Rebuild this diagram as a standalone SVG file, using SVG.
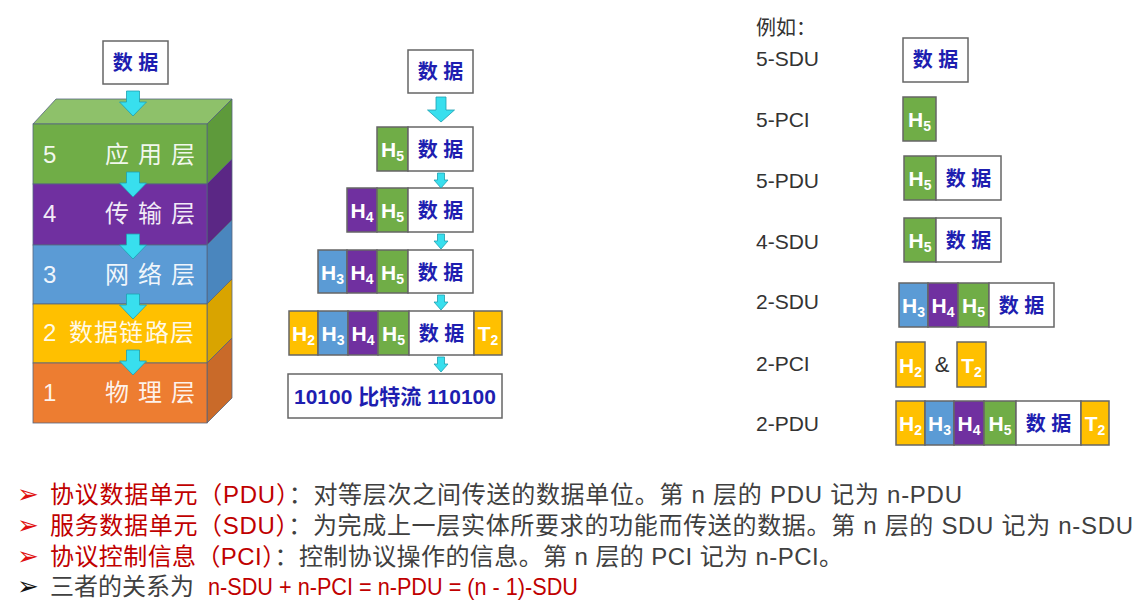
<svg xmlns="http://www.w3.org/2000/svg" xmlns:xlink="http://www.w3.org/1999/xlink" width="1138" height="608" viewBox="0 0 1138 608">
<style>
text{font-family:'Liberation Sans','Noto Sans CJK SC',sans-serif}
.box{fill:#fff;stroke:#666;stroke-width:1.5}
.g{fill:#70AD47;stroke:#666;stroke-width:1.5}
.p{fill:#7030A0;stroke:#666;stroke-width:1.5}
.b{fill:#5B9BD5;stroke:#666;stroke-width:1.5}
.y{fill:#FFC000;stroke:#666;stroke-width:1.5}
.d{font-size:20px;font-weight:bold;fill:#1E1EB0;text-anchor:middle}
.h{font-size:21px;font-weight:bold;fill:#fff;text-anchor:middle}
.s{font-size:14px}
.lay{font-size:24px;fill:#fff;fill-opacity:0.92}
.lbl{font-size:21px;fill:#333}
.t{font-size:24px;fill:#404040}
.r{fill:#C00000}
.bul{font-family:'DejaVu Sans',sans-serif;font-size:26px}
.arr{fill:#38DFEE;stroke:#1E9FB0;stroke-width:0.8}
.edge{stroke:#55657f;stroke-width:0.8}
</style>
<defs>
<path id="aL" d="M-6.5,0 H6.5 V11 H13.5 L0,25 L-13.5,11 H-6.5 Z"/>
<path id="aM" d="M-5,0 H5 V13 H13.5 L0,25 L-13.5,13 H-5 Z"/>
<path id="aS" d="M-3.5,0 H3.5 V7 H7 L0,15 L-7,7 H-3.5 Z"/>
</defs>
<rect width="1138" height="608" fill="#fff"/>

<!-- Left stack -->
<g id="stack-data">
<rect class="box" x="103" y="41" width="65" height="43"/>
<text class="d" x="135.5" y="70">数 据</text>
</g>
<g id="layer5">
<polygon class="edge" points="33,124 56,99 232,99 207,124" fill="#8EC16A"/>
<polygon class="edge" points="207,124 232,99 232,159 207,184" fill="#5E9A3B"/>
<rect class="edge" x="33" y="124" width="174" height="60" fill="#70AD47"/>
<text class="lay" x="43" y="163">5</text>
<text class="lay" x="105 138 171" y="163">应用层</text>
</g>
<g id="layer4">
<polygon class="edge" points="207,184 232,159 232,220 207,245" fill="#5B2785"/>
<rect class="edge" x="33" y="184" width="174" height="61" fill="#7030A0"/>
<text class="lay" x="43" y="222">4</text>
<text class="lay" x="105 138 171" y="222">传输层</text>
</g>
<g id="layer3">
<polygon class="edge" points="207,245 232,220 232,279 207,304" fill="#4A86BE"/>
<rect class="edge" x="33" y="245" width="174" height="59" fill="#5B9BD5"/>
<text class="lay" x="43" y="283">3</text>
<text class="lay" x="105 138 171" y="283">网络层</text>
</g>
<g id="layer2">
<polygon class="edge" points="207,304 232,279 232,338 207,363" fill="#D9A400"/>
<rect class="edge" x="33" y="304" width="174" height="59" fill="#FFC000"/>
<text class="lay" x="43" y="341">2</text>
<text class="lay" x="69 94 119 145 170" y="341">数据链路层</text>
</g>
<g id="layer1">
<polygon class="edge" points="207,363 232,338 232,398 207,423" fill="#C96A29"/>
<rect class="edge" x="33" y="363" width="174" height="60" fill="#ED7D31"/>
<text class="lay" x="43" y="401">1</text>
<text class="lay" x="105 138 171" y="401">物理层</text>
</g>

<!-- Middle column -->
<g id="m-data">
<rect class="box" x="408" y="50" width="65" height="43"/>
<text class="d" x="440.5" y="79">数 据</text>
</g>
<g id="m-row5">
<rect class="g" x="377" y="127" width="31" height="44"/>
<rect class="box" x="408" y="127" width="65" height="44"/>
<text class="h" x="392.5" y="157">H<tspan class="s" dy="4">5</tspan></text>
<text class="d" x="440.5" y="157">数 据</text>
</g>
<g id="m-row4">
<rect class="p" x="347" y="188" width="30" height="44"/>
<rect class="g" x="377" y="188" width="31" height="44"/>
<rect class="box" x="408" y="188" width="65" height="44"/>
<text class="h" x="362" y="218">H<tspan class="s" dy="4">4</tspan></text>
<text class="h" x="392.5" y="218">H<tspan class="s" dy="4">5</tspan></text>
<text class="d" x="440.5" y="218">数 据</text>
</g>
<g id="m-row3">
<rect class="b" x="318" y="250" width="29" height="43"/>
<rect class="p" x="347" y="250" width="30" height="43"/>
<rect class="g" x="377" y="250" width="31" height="43"/>
<rect class="box" x="408" y="250" width="65" height="43"/>
<text class="h" x="332.5" y="280">H<tspan class="s" dy="4">3</tspan></text>
<text class="h" x="362" y="280">H<tspan class="s" dy="4">4</tspan></text>
<text class="h" x="392.5" y="280">H<tspan class="s" dy="4">5</tspan></text>
<text class="d" x="440.5" y="280">数 据</text>
</g>
<g id="m-row2">
<rect class="y" x="289" y="311" width="29" height="44"/>
<rect class="b" x="318" y="311" width="30" height="44"/>
<rect class="p" x="348" y="311" width="30" height="44"/>
<rect class="g" x="378" y="311" width="31" height="44"/>
<rect class="box" x="409" y="311" width="65" height="44"/>
<rect class="y" x="474" y="311" width="28" height="44"/>
<text class="h" x="303.5" y="341">H<tspan class="s" dy="4">2</tspan></text>
<text class="h" x="333" y="341">H<tspan class="s" dy="4">3</tspan></text>
<text class="h" x="363" y="341">H<tspan class="s" dy="4">4</tspan></text>
<text class="h" x="393.5" y="341">H<tspan class="s" dy="4">5</tspan></text>
<text class="d" x="441.5" y="341">数 据</text>
<text class="h" x="488" y="341">T<tspan class="s" dy="4">2</tspan></text>
</g>
<g id="m-bits">
<rect class="box" x="288" y="374" width="214" height="44"/>
<text class="d" x="395" y="404" style="font-size:21px">10100 比特流 110100</text>
</g>

<!-- Right column -->
<g id="r-title"><text x="756" y="35" font-size="20" fill="#333">例如：</text></g>
<g id="r-5sdu">
<text class="lbl" x="756" y="66">5-SDU</text>
<rect class="box" x="903" y="38" width="65" height="44"/>
<text class="d" x="935.5" y="67">数 据</text>
</g>
<g id="r-5pci">
<text class="lbl" x="756" y="127">5-PCI</text>
<rect class="g" x="903" y="97" width="33" height="44"/>
<text class="h" x="919.5" y="127">H<tspan class="s" dy="4">5</tspan></text>
</g>
<g id="r-5pdu">
<text class="lbl" x="756" y="188">5-PDU</text>
<rect class="g" x="904" y="156" width="32" height="44"/>
<rect class="box" x="936" y="156" width="65" height="44"/>
<text class="h" x="920" y="186">H<tspan class="s" dy="4">5</tspan></text>
<text class="d" x="968.5" y="186">数 据</text>
</g>
<g id="r-4sdu">
<text class="lbl" x="756" y="249">4-SDU</text>
<rect class="g" x="904" y="218" width="32" height="44"/>
<rect class="box" x="936" y="218" width="65" height="44"/>
<text class="h" x="920" y="248">H<tspan class="s" dy="4">5</tspan></text>
<text class="d" x="968.5" y="248">数 据</text>
</g>
<g id="r-2sdu">
<text class="lbl" x="756" y="309">2-SDU</text>
<rect class="b" x="899" y="283" width="29" height="44"/>
<rect class="p" x="928" y="283" width="30" height="44"/>
<rect class="g" x="958" y="283" width="31" height="44"/>
<rect class="box" x="989" y="283" width="65" height="44"/>
<text class="h" x="913.5" y="313">H<tspan class="s" dy="4">3</tspan></text>
<text class="h" x="943" y="313">H<tspan class="s" dy="4">4</tspan></text>
<text class="h" x="973.5" y="313">H<tspan class="s" dy="4">5</tspan></text>
<text class="d" x="1021.5" y="313">数 据</text>
</g>
<g id="r-2pci">
<text class="lbl" x="756" y="371">2-PCI</text>
<rect class="y" x="896" y="342" width="29" height="45"/>
<text class="h" x="910.5" y="373">H<tspan class="s" dy="4">2</tspan></text>
<text x="942" y="372" font-size="22" fill="#333" text-anchor="middle">&amp;</text>
<rect class="y" x="957" y="342" width="29" height="45"/>
<text class="h" x="971.5" y="373">T<tspan class="s" dy="4">2</tspan></text>
</g>
<g id="r-2pdu">
<text class="lbl" x="756" y="431">2-PDU</text>
<rect class="y" x="896" y="401" width="29" height="44"/>
<rect class="b" x="925" y="401" width="29" height="44"/>
<rect class="p" x="954" y="401" width="30" height="44"/>
<rect class="g" x="984" y="401" width="32" height="44"/>
<rect class="box" x="1016" y="401" width="65" height="44"/>
<rect class="y" x="1081" y="401" width="28" height="44"/>
<text class="h" x="910.5" y="431">H<tspan class="s" dy="4">2</tspan></text>
<text class="h" x="939.5" y="431">H<tspan class="s" dy="4">3</tspan></text>
<text class="h" x="969" y="431">H<tspan class="s" dy="4">4</tspan></text>
<text class="h" x="1000" y="431">H<tspan class="s" dy="4">5</tspan></text>
<text class="d" x="1048.5" y="431">数 据</text>
<text class="h" x="1095" y="431">T<tspan class="s" dy="4">2</tspan></text>
</g>

<!-- Connectors -->
<g id="connectors">
<use href="#aL" class="arr" x="133" y="91"/>
<use href="#aL" class="arr" x="133" y="172"/>
<use href="#aL" class="arr" x="133" y="234"/>
<use href="#aL" class="arr" x="133" y="294"/>
<use href="#aL" class="arr" x="133" y="350"/>
<use href="#aM" class="arr" x="441" y="97"/>
<use href="#aS" class="arr" x="441" y="173"/>
<use href="#aS" class="arr" x="441" y="234"/>
<use href="#aS" class="arr" x="441" y="295"/>
<use href="#aS" class="arr" x="441" y="357"/>
</g>

<!-- Bottom notes -->
<g id="notes">
<text class="bul" x="17" y="503" fill="#E01010">➢</text>
<text class="bul" x="17" y="534" fill="#E01010">➢</text>
<text class="bul" x="17" y="565" fill="#E01010">➢</text>
<text class="bul" x="17" y="595" fill="#111">➢</text>
<text class="t" x="50" y="503" textLength="912" lengthAdjust="spacing"><tspan class="r">协议数据单元（PDU）</tspan>：对等层次之间传送的数据单位。第 n 层的 PDU 记为 n-PDU</text>
<text class="t" x="50" y="534" textLength="1083" lengthAdjust="spacing"><tspan class="r">服务数据单元（SDU）</tspan>：为完成上一层实体所要求的功能而传送的数据。第 n 层的 SDU 记为 n-SDU</text>
<text class="t" x="50" y="565" textLength="793" lengthAdjust="spacing"><tspan class="r">协议控制信息（PCI）</tspan>：控制协议操作的信息。第 n 层的 PCI 记为 n-PCI。</text>
<text class="t" x="50" y="595">三者的关系为</text>
<text class="t r" x="208" y="595" textLength="370" lengthAdjust="spacingAndGlyphs">n-SDU + n-PCI = n-PDU = (n - 1)-SDU</text>
</g>
</svg>
